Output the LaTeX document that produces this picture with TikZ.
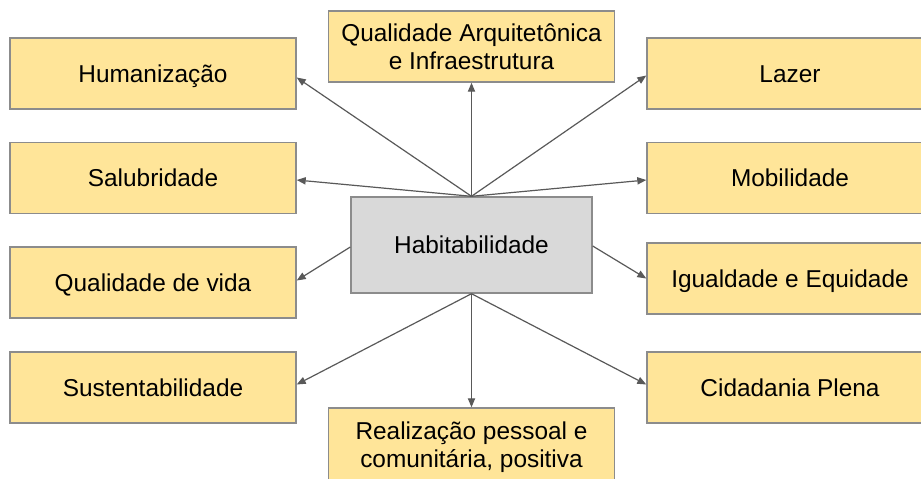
\documentclass[tikz,border=0pt]{standalone}
\usepackage{fontspec}
\setmainfont{Liberation Sans}
\usepackage{xcolor}
\usepackage{tikz}
\usetikzlibrary{positioning, shapes, arrows.meta}

\definecolor{boxyellow}{HTML}{FFE599}
\definecolor{boxgray}{HTML}{D9D9D9}
\definecolor{boxline}{HTML}{8C8C8C}
\definecolor{arrowgray}{HTML}{595959}

\begin{document}
\begin{tikzpicture}[x=0.5pt, y=-0.5pt,
    font=\fontsize{12.2}{14}\selectfont,
    yellowbox/.style={draw=boxline, line width=0.7pt, fill=boxyellow, rectangle, align=center,
        minimum width=143pt, minimum height=35.5pt, inner sep=0pt},
    aspect/.style={yellowbox, text height=8.7pt, text depth=0pt},
    core/.style={draw=boxline, line width=0.7pt, fill=boxgray, rectangle,
        minimum width=120.5pt, minimum height=48pt, inner sep=0pt,
        text height=8.7pt, text depth=0pt},
    link/.style={-{Triangle[length=4.5pt, width=3.6pt]}, draw=arrowgray, line width=0.6pt}]
    \clip (0,0) rectangle (921,478);
    % Central node
    \node[core] (hab) at (471.5,245) {Habitabilidade};
    % Left column
    \node[aspect] (hum) at (153,73.5) {Humanização};
    \node[aspect] (sal) at (153,178) {Salubridade};
    \node[aspect] (qdv) at (153,282.5) {Qualidade de vida};
    \node[aspect] (sus) at (153,387.5) {Sustentabilidade};
    % Right column
    \node[aspect] (laz) at (790,73.5) {Lazer};
    \node[aspect] (mob) at (790,178) {Mobilidade};
    \node[aspect] (ieq) at (790,278.5) {Igualdade e Equidade};
    \node[aspect] (cid) at (790,387.5) {Cidadania Plena};
    % Top and bottom
    \node[yellowbox] (qai) at (471.5,46.5) {Qualidade Arquitetônica\\e Infraestrutura};
    \node[yellowbox, minimum height=39pt] (rea) at (471.5,447) {Realização pessoal e\\comunitária, positiva};
    % Connections: from the top of the central node
    \draw[link] (hab.north) -- ([yshift=-2pt]hum.east);
    \draw[link] (hab.north) -- (qai.south);
    \draw[link] (hab.north) -- ([yshift=-1pt]laz.west);
    \draw[link] (hab.north) -- ([yshift=-1pt]sal.east);
    \draw[link] (hab.north) -- ([yshift=-1pt]mob.west);
    % Connections: from the sides
    \draw[link] ([yshift=-1pt]hab.west) -- ([yshift=1pt]qdv.east);
    \draw[link] ([yshift=-0.5pt]hab.east) -- (ieq.west);
    % Connections: from the bottom
    \draw[link] (hab.south) -- ([yshift=1.5pt]sus.east);
    \draw[link] (hab.south) -- (rea.north);
    \draw[link] (hab.south) -- ([yshift=1.5pt]cid.west);
\end{tikzpicture}
\end{document}
